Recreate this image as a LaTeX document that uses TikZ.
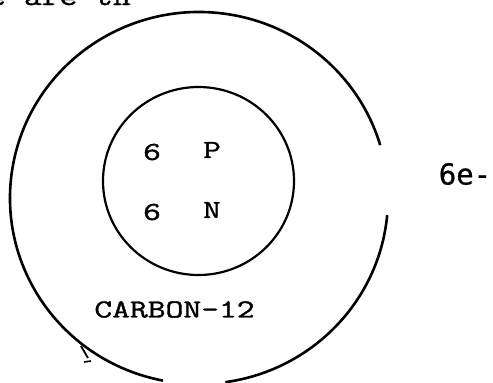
\documentclass[tikz,border=0pt]{standalone}
\usepackage{fontspec}
\usetikzlibrary{calc,shapes.geometric}
\setmonofont[FakeBold=1.2]{Latin Modern Mono}
\newfontfamily\sansmono[FakeBold=0.6]{DejaVu Sans Mono}
\begin{document}
\begin{tikzpicture}[x=1pt,y=-1pt,
  shell/.style={line width=2.6pt},
  nucleus/.style={line width=2.2pt},
  lbl/.style={font=\ttfamily\fontsize{26}{30}\selectfont, inner sep=0pt, xscale=1.33, transform shape},
  elbl/.style={font=\sansmono\fontsize{29}{32}\selectfont, inner sep=0pt}]
\useasboundingbox (0,0) rectangle (493,383);
\begin{scope}
\clip (0,0) rectangle (493,383);
\node[lbl, anchor=base west] (top) at (-12,5) {e are th};
\end{scope}
% outer shell with gaps
\coordinate (oc) at (199,198);
\draw[shell] ($(oc)+(5.3:189 and 186)$) arc[start angle=5.3, end angle=82, x radius=189, y radius=186];
\draw[shell] ($(oc)+(101:189 and 186)$) arc[start angle=101, end angle=343.5, x radius=189, y radius=186];
% small tick mark at lower left
\draw[line width=1.8pt] (81,346) -- (88,358);
\draw[line width=1.6pt] (84,362) -- (91,361);
% nucleus
\node[nucleus, draw, ellipse, minimum width=191pt, minimum height=188pt, inner sep=0pt] (nuc) at (198.5,181) {};
\node[lbl] (p6) at (152,152) {6};
\node[lbl] (p) at (212,150) {P};
\node[lbl] (n6) at (152,212) {6};
\node[lbl] (n) at (212,210) {N};
\node[lbl] (name) at (174.5,309.5) {CARBON-12};
\node[elbl] (e) at (465,174) {6e-};
\end{tikzpicture}
\end{document}
